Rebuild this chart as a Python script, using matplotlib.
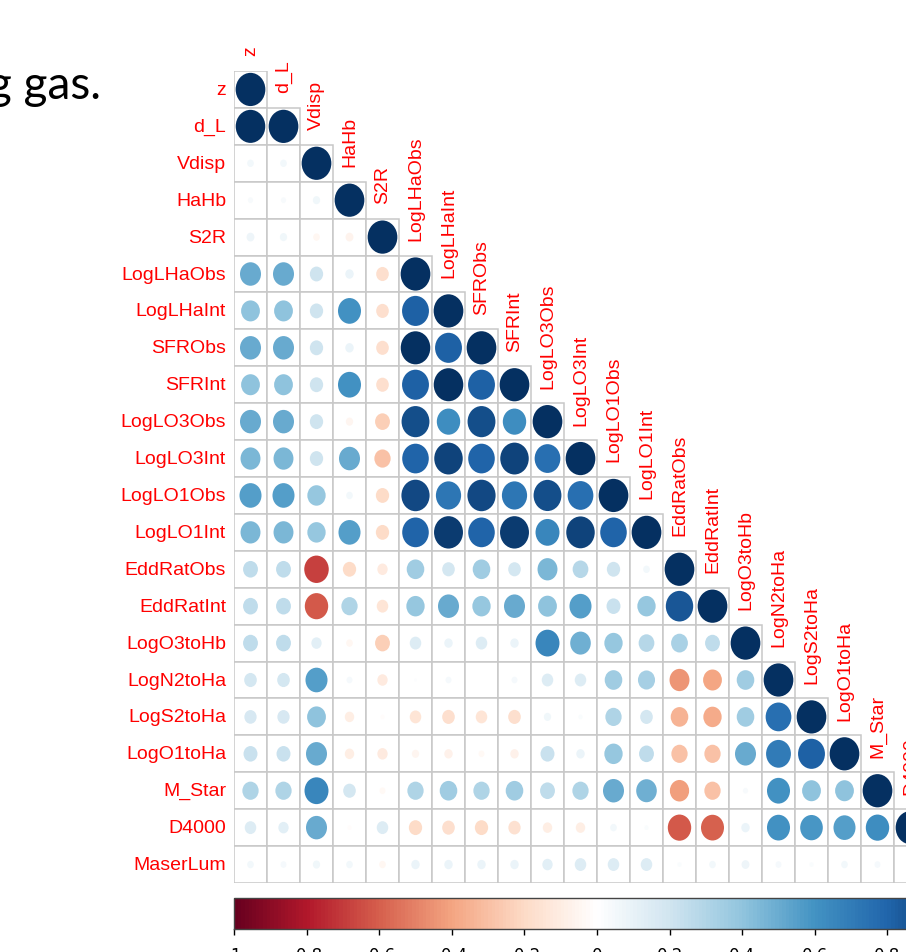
import numpy as np
import matplotlib
matplotlib.use('Agg')
import matplotlib.pyplot as plt
from matplotlib.patches import Ellipse, Rectangle
from matplotlib.colors import LinearSegmentedColormap, Normalize
from matplotlib.cm import ScalarMappable

labels = ["z", "d_L", "Vdisp", "HaHb", "S2R", "LogLHaObs", "LogLHaInt", "SFRObs",
          "SFRInt", "LogLO3Obs", "LogLO3Int", "LogLO1Obs", "LogLO1Int", "EddRatObs",
          "EddRatInt", "LogO3toHb", "LogN2toHa", "LogS2toHa", "LogO1toHa", "M_Star",
          "D4000", "MaserLum"]

# lower triangle, row by row (diagonal = 1 added below)
corr_lower = [
    [],
    [0.99],
    [0.05, 0.05],
    [0.03, 0.03, 0.06],
    [0.07, 0.06, -0.05, -0.07],
    [0.5, 0.5, 0.2, 0.08, -0.18],
    [0.4, 0.4, 0.2, 0.6, -0.18, 0.82],
    [0.5, 0.5, 0.2, 0.08, -0.18, 0.99, 0.82],
    [0.4, 0.4, 0.2, 0.6, -0.18, 0.82, 0.99, 0.82],
    [0.5, 0.5, 0.2, -0.06, -0.25, 0.88, 0.62, 0.88, 0.62],
    [0.45, 0.45, 0.2, 0.5, -0.3, 0.8, 0.92, 0.8, 0.92, 0.75],
    [0.55, 0.55, 0.38, 0.05, -0.2, 0.9, 0.72, 0.9, 0.72, 0.88, 0.75],
    [0.45, 0.45, 0.38, 0.55, -0.2, 0.8, 0.95, 0.8, 0.95, 0.65, 0.92, 0.8],
    [0.25, 0.25, -0.68, -0.2, -0.12, 0.35, 0.18, 0.35, 0.18, 0.45, 0.28, 0.2, 0.05],
    [0.25, 0.25, -0.62, 0.3, -0.15, 0.38, 0.5, 0.38, 0.5, 0.4, 0.55, 0.22, 0.38, 0.85],
    [0.25, 0.25, 0.12, -0.05, -0.25, 0.15, 0.08, 0.15, 0.08, 0.65, 0.48, 0.38, 0.28,
     0.32, 0.25],
    [0.18, 0.18, 0.55, 0.04, -0.12, 0.01, 0.04, 0.0, 0.04, 0.15, 0.15, 0.35, 0.33,
     -0.45, -0.4, 0.35],
    [0.17, 0.17, 0.4, -0.1, -0.02, -0.15, -0.18, -0.15, -0.18, 0.06, 0.02, 0.3, 0.18,
     -0.35, -0.38, 0.35, 0.75],
    [0.22, 0.22, 0.5, -0.1, -0.12, -0.06, -0.08, -0.04, -0.08, 0.22, 0.08, 0.38, 0.25,
     -0.3, -0.3, 0.5, 0.7, 0.82],
    [0.3, 0.3, 0.65, 0.18, -0.04, 0.3, 0.35, 0.3, 0.35, 0.25, 0.3, 0.5, 0.48,
     -0.42, -0.3, 0.03, 0.6, 0.4, 0.4],
    [0.15, 0.12, 0.5, -0.02, 0.15, -0.2, -0.18, -0.2, -0.17, -0.1, -0.1, 0.05, 0.02,
     -0.62, -0.6, 0.08, 0.6, 0.58, 0.55, 0.62],
    [0.05, 0.04, 0.06, 0.05, -0.05, 0.08, 0.08, 0.08, 0.08, 0.12, 0.15, 0.15, 0.15,
     0.02, 0.05, 0.07, 0.04, 0.02, 0.05, 0.04, 0.03],
]

cbar_ticks = [-1, -0.8, -0.6, -0.4, -0.2, 0, 0.2, 0.4, 0.6, 0.8, 1]
cbar_ticklabels = ["-1", "-0.8", "-0.6", "-0.4", "-0.2", "0", "0.2", "0.4", "0.6", "0.8", "1"]

rdbu = ["#67001F", "#B2182B", "#D6604D", "#F4A582", "#FDDBC7", "#FFFFFF",
        "#D1E5F0", "#92C5DE", "#4393C3", "#2166AC", "#053061"]
cmap = LinearSegmentedColormap.from_list("corr_rdbu", rdbu, N=200)
norm = Normalize(-1, 1)

W, H = 906, 953
fig = plt.figure(figsize=(W / 100, H / 100), dpi=100)

n = len(labels)
# grid: left 234px, 33px per column, top 72px, 36.9px per row
ax = fig.add_axes([234 / W, 1 - 884 / H, 726 / W, 812 / H])
ax.set_xlim(0, n)
ax.set_ylim(n, 0)
ax.axis('off')

for i, row in enumerate(corr_lower):
    vals = list(row) + [1.0]
    for j, r in enumerate(vals):
        ax.add_patch(Rectangle((j, i), 1, 1, facecolor='white', edgecolor='#c8c8c8',
                               linewidth=1.1, zorder=1))
        d = 0.9 * np.sqrt(abs(r))
        ax.add_patch(Ellipse((j + 0.5, i + 0.5), d, d, facecolor=cmap(norm(r)),
                             edgecolor='none', zorder=2))

font = ['Liberation Sans', 'DejaVu Sans']
for i, name in enumerate(labels):
    ax.text(-0.24, i + 0.5, name, ha='right', va='center', color='#ff0000',
            fontsize=14, family=font)
    ax.text(i + 0.5, i - 0.42, name, ha='center', va='bottom', rotation=90,
            color='#ff0000', fontsize=14, family=font)

# colorbar
cax = fig.add_axes([234 / W, 1 - 930 / H, 726 / W, 31 / H])
cb = fig.colorbar(ScalarMappable(norm=norm, cmap=cmap), cax=cax,
                  orientation='horizontal', ticks=cbar_ticks)
cb.ax.set_xticklabels(cbar_ticklabels)
cb.outline.set_edgecolor('#444444')
cb.outline.set_linewidth(1.0)
cb.ax.tick_params(length=4, width=1, pad=8, labelsize=12)

# slide text cut at the left edge
fig.text(101 / W, 1 - 99 / H, "g gas.", ha='right', va='baseline', fontsize=33,
         family='Lato', color='black')

fig.savefig("out.png", dpi=100)
